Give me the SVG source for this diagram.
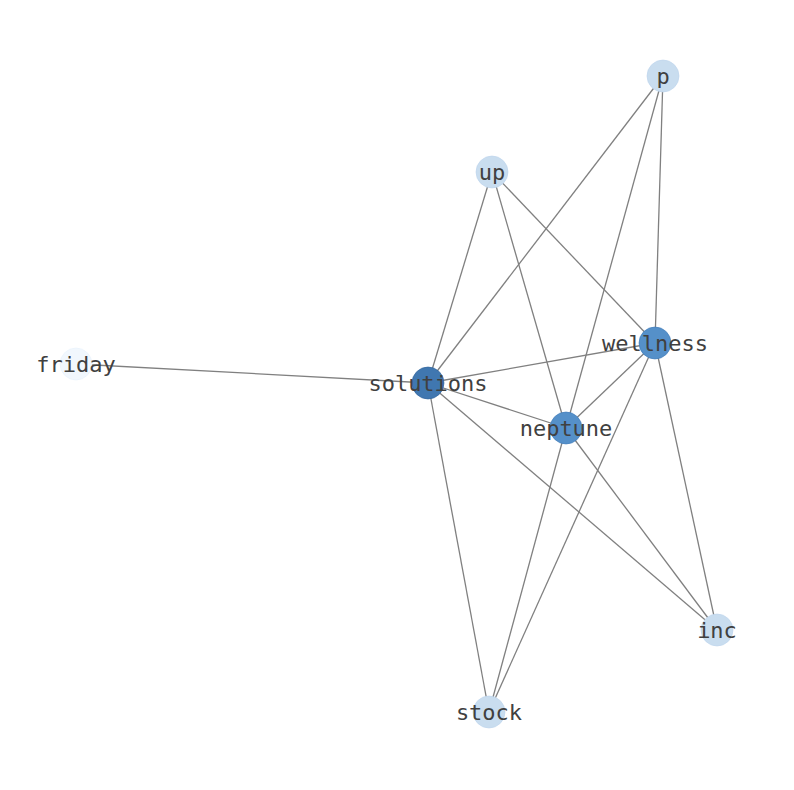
<svg xmlns="http://www.w3.org/2000/svg" width="794" height="790" viewBox="0 0 794 790">
<style>
.e{stroke:#808080;stroke-width:1.3;fill:none}
.n{stroke-width:1;stroke-opacity:0.6}
.t{font-family:"DejaVu Sans Mono","Liberation Mono",monospace;font-size:22px;fill:#404040;text-anchor:middle;dominant-baseline:central}
</style>
<rect width="794" height="790" fill="#ffffff"/>
<g id="edges">
<line class="e" x1="663" y1="76" x2="428" y2="383"/>
<line class="e" x1="663" y1="76" x2="566" y2="428"/>
<line class="e" x1="663" y1="76" x2="655" y2="343"/>
<line class="e" x1="492" y1="172" x2="428" y2="383"/>
<line class="e" x1="492" y1="172" x2="566" y2="428"/>
<line class="e" x1="492" y1="172" x2="655" y2="343"/>
<line class="e" x1="76" y1="364" x2="428" y2="383"/>
<line class="e" x1="428" y1="383" x2="655" y2="343"/>
<line class="e" x1="428" y1="383" x2="566" y2="428"/>
<line class="e" x1="428" y1="383" x2="717" y2="630"/>
<line class="e" x1="428" y1="383" x2="489" y2="712"/>
<line class="e" x1="655" y1="343" x2="566" y2="428"/>
<line class="e" x1="655" y1="343" x2="717" y2="630"/>
<line class="e" x1="655" y1="343" x2="489" y2="712"/>
<line class="e" x1="566" y1="428" x2="489" y2="712"/>
<line class="e" x1="566" y1="428" x2="717" y2="630"/>
</g>
<g id="node-friday"><circle class="n" cx="76" cy="364" r="16" fill="#f1f7fd" stroke="#e8f1fb"/><text class="t" x="76" y="364">friday</text></g>
<g id="node-p"><circle class="n" cx="663" cy="76" r="16" fill="#c9ddef" stroke="#bcd4ec"/><text class="t" x="663" y="76">p</text></g>
<g id="node-up"><circle class="n" cx="492" cy="172" r="16" fill="#c9ddef" stroke="#bcd4ec"/><text class="t" x="492" y="172">up</text></g>
<g id="node-inc"><circle class="n" cx="717" cy="630" r="16" fill="#c9ddef" stroke="#bcd4ec"/><text class="t" x="717" y="630">inc</text></g>
<g id="node-stock"><circle class="n" cx="489" cy="712" r="16" fill="#c9ddef" stroke="#bcd4ec"/><text class="t" x="489" y="712">stock</text></g>
<g id="node-wellness"><circle class="n" cx="655" cy="343" r="16" fill="#5590c9" stroke="#3c78b8"/><text class="t" x="655" y="343">wellness</text></g>
<g id="node-neptune"><circle class="n" cx="566" cy="428" r="16" fill="#5590c9" stroke="#3c78b8"/><text class="t" x="566" y="428">neptune</text></g>
<g id="node-solutions"><circle class="n" cx="428" cy="383" r="16" fill="#4077b0" stroke="#2c5f98"/><text class="t" x="428" y="383">solutions</text></g>
</svg>
